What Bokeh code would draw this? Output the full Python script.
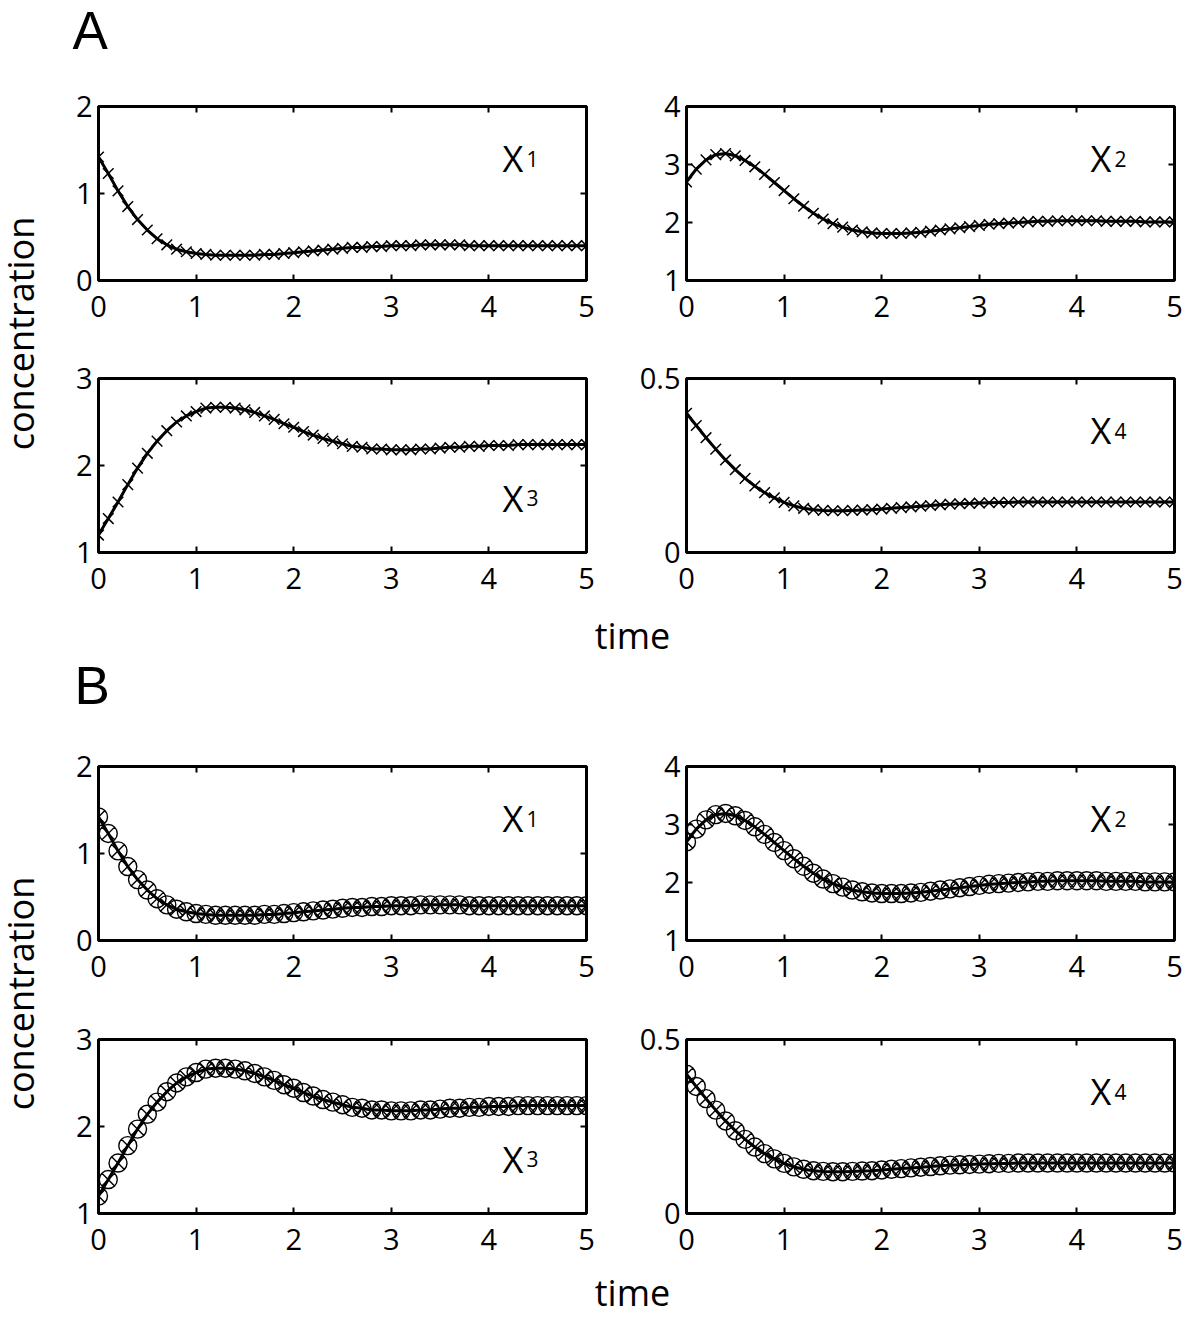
import math
from bokeh.plotting import figure
from bokeh.layouts import row, column
from bokeh.models import Range1d, LinearAxis, FixedTicker, CustomJSTickFormatter, Label
from bokeh.core.properties import value
from bokeh.embed import file_html
from bokeh.resources import INLINE

# ---------------- data ----------------
time = [0.0, 0.1, 0.2, 0.3, 0.4, 0.5, 0.6, 0.7, 0.8, 0.9,
        1.0, 1.1, 1.2, 1.3, 1.4, 1.5, 1.6, 1.7, 1.8, 1.9,
        2.0, 2.1, 2.2, 2.3, 2.4, 2.5, 2.6, 2.7, 2.8, 2.9,
        3.0, 3.1, 3.2, 3.3, 3.4, 3.5, 3.6, 3.7, 3.8, 3.9,
        4.0, 4.1, 4.2, 4.3, 4.4, 4.5, 4.6, 4.7, 4.8, 4.9,
        5.0]

x1 = [1.42, 1.23, 1.03, 0.85, 0.70, 0.58, 0.48, 0.41, 0.36, 0.33,
      0.31, 0.30, 0.29, 0.29, 0.29, 0.29, 0.29, 0.30, 0.30, 0.31,
      0.32, 0.33, 0.34, 0.35, 0.36, 0.37, 0.38, 0.38, 0.39, 0.39,
      0.40, 0.40, 0.40, 0.41, 0.41, 0.41, 0.41, 0.41, 0.40, 0.40,
      0.40, 0.40, 0.40, 0.40, 0.40, 0.40, 0.40, 0.40, 0.40, 0.40,
      0.40]

x2 = [2.70, 2.92, 3.08, 3.17, 3.19, 3.15, 3.07, 2.96, 2.83, 2.69,
      2.55, 2.41, 2.28, 2.16, 2.06, 1.98, 1.92, 1.87, 1.84, 1.82,
      1.81, 1.81, 1.81, 1.82, 1.83, 1.85, 1.87, 1.89, 1.91, 1.93,
      1.95, 1.97, 1.98, 1.99, 2.00, 2.01, 2.02, 2.02, 2.03, 2.03,
      2.03, 2.03, 2.03, 2.02, 2.02, 2.02, 2.02, 2.01, 2.01, 2.01,
      2.01]

x3 = [1.20, 1.39, 1.58, 1.78, 1.97, 2.14, 2.28, 2.40, 2.50, 2.57,
      2.62, 2.66, 2.67, 2.67, 2.66, 2.64, 2.61, 2.57, 2.53, 2.48,
      2.44, 2.39, 2.35, 2.31, 2.28, 2.25, 2.22, 2.21, 2.19, 2.19,
      2.18, 2.18, 2.18, 2.19, 2.19, 2.20, 2.21, 2.21, 2.22, 2.22,
      2.23, 2.23, 2.23, 2.24, 2.24, 2.24, 2.24, 2.24, 2.24, 2.24,
      2.24]

x4 = [0.400, 0.365, 0.330, 0.297, 0.266, 0.238, 0.213, 0.191, 0.172, 0.157,
      0.144, 0.134, 0.127, 0.123, 0.121, 0.120, 0.120, 0.121, 0.122, 0.123,
      0.125, 0.127, 0.129, 0.131, 0.133, 0.135, 0.137, 0.139, 0.140, 0.141,
      0.142, 0.143, 0.144, 0.144, 0.145, 0.145, 0.145, 0.145, 0.145, 0.145,
      0.145, 0.145, 0.145, 0.145, 0.145, 0.145, 0.145, 0.145, 0.145, 0.145,
      0.145]

x_ticks = [0, 1, 2, 3, 4, 5]
y_ticks = {"1": [0, 1, 2], "2": [1, 2, 3, 4], "3": [1, 2, 3], "4": [0, 0.5]}
y_ranges = {"1": (0, 2), "2": (1, 4), "3": (1, 3), "4": (0, 0.5)}
series = {"1": x1, "2": x2, "3": x3, "4": x4}
# anchor (data units) of the species names
label_pos = {"1": (4.14, 1.398), "2": (4.14, 3.097), "3": (4.14, 1.626), "4": (4.14, 0.35)}

FONT = "Open Sans"
TICK_FS = "29px"

num_fmt = CustomJSTickFormatter(code="return String(Math.round(tick*10)/10)")
blank_fmt = CustomJSTickFormatter(code="return ''")


def add_axes(p, yt):
    common = dict(axis_line_color=None, major_tick_in=6, major_tick_out=0,
                  minor_tick_line_color=None, major_tick_line_width=2,
                  major_tick_line_color="black")
    lab = dict(major_label_text_font=FONT, major_label_text_font_size=TICK_FS,
               major_label_text_color="black")
    bx = LinearAxis(ticker=FixedTicker(ticks=x_ticks), formatter=num_fmt,
                    major_label_standoff=15, **lab, **common)
    ly = LinearAxis(ticker=FixedTicker(ticks=yt), formatter=num_fmt,
                    major_label_standoff=6, **lab, **common)
    tx = LinearAxis(ticker=FixedTicker(ticks=x_ticks), formatter=blank_fmt,
                    major_label_text_font_size="1px", major_label_standoff=0, **common)
    ry = LinearAxis(ticker=FixedTicker(ticks=yt), formatter=blank_fmt,
                    major_label_text_font_size="1px", major_label_standoff=0, **common)
    p.add_layout(bx, "below")
    p.add_layout(ly, "left")
    p.add_layout(tx, "above")
    p.add_layout(ry, "right")


def panel(key, kind, width, height, L, R, T, B):
    lo, hi = y_ranges[key]
    p = figure(width=width, height=height, x_range=Range1d(0, 5), y_range=Range1d(lo, hi),
               x_axis_type=None, y_axis_type=None, toolbar_location=None,
               output_backend="svg", min_border_left=L, min_border_right=R,
               min_border_top=T, min_border_bottom=B)
    p.outline_line_color = "black"
    p.outline_line_width = 3
    add_axes(p, y_ticks[key])
    ys = series[key]
    p.line(time, ys, line_color="black", line_width=3)
    if kind == "A":
        p.scatter(time, ys, marker="x", size=15, line_color="black", line_width=1.5)
    else:
        p.scatter(time, ys, marker="circle_x", size=18, fill_color=None,
                  line_color="black", line_width=1.4)
    lx, ly = label_pos[key]
    p.add_layout(Label(x=lx, y=ly, text="X", text_font=FONT, text_font_size="36px",
                       text_baseline="alphabetic", text_align="left", text_color="black"))
    p.add_layout(Label(x=lx, y=ly, x_offset=24, text=key, text_font=FONT,
                       text_font_size="21px", text_baseline="alphabetic",
                       text_align="left", text_color="black"))
    return p


def blank(width, height):
    p = figure(width=width, height=height, x_range=Range1d(0, width), y_range=Range1d(0, height),
               x_axis_type=None, y_axis_type=None, toolbar_location=None,
               output_backend="svg", min_border=0)
    p.outline_line_color = None
    return p


def block(kind, h1, T1, B1, h2, T2, B2, cy):
    f11 = panel("1", kind, 566, h1, 58, 20, T1, B1)
    f12 = panel("2", kind, 578, h1, 80, 10, T1, B1)
    f21 = panel("3", kind, 566, h2, 58, 20, T2, B2)
    f22 = panel("4", kind, 578, h2, 80, 10, T2, B2)
    strip = blank(40, h1 + h2)
    strip.text(x=[20], y=[cy], text=["concentration"], angle=math.pi / 2,
               text_font=value(FONT), text_font_size="36px", text_align="center",
               text_baseline="alphabetic", text_color="black")
    return row(strip, column(row(f11, f12), row(f21, f22)))


head = blank(1184, 84)
head.text(x=[72], y=[54], text=["A"], text_font=value("Liberation Sans"),
          text_font_size="53px", text_align="left", text_baseline="alphabetic",
          text_color="black")

blockA = block("A", 252, 22, 56, 272, 42, 56, 275)

mid = blank(1184, 136)
mid.text(x=[632], y=[109], text=["time"], text_font=value(FONT), text_font_size="36px",
         text_align="center", text_baseline="alphabetic", text_color="black")
mid.text(x=[74], y=[59], text=["B"], text_font=value("Liberation Sans"),
         text_font_size="53px", text_align="left", text_baseline="alphabetic",
         text_color="black")

blockB = block("B", 252, 22, 56, 273, 43, 56, 276)

bottom = blank(1184, 48)
bottom.text(x=[632], y=[25], text=["time"], text_font=value(FONT), text_font_size="36px",
            text_align="center", text_baseline="alphabetic", text_color="black")

layout = column(head, blockA, mid, blockB, bottom)

open("out.html", "w").write(file_html(layout, INLINE))
